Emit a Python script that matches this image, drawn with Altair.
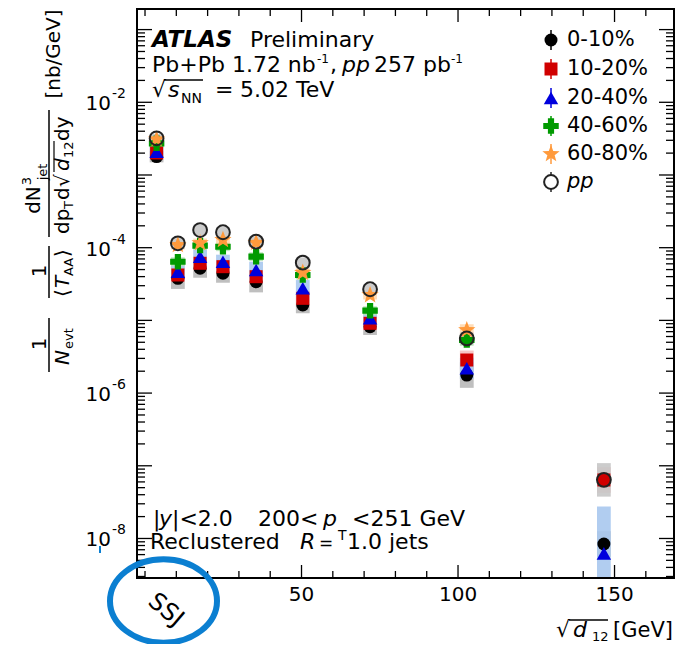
import altair as alt
import pandas as pd

FONT = "DejaVu Sans"

# ---------------- data ----------------
x_centres = [3.7, 10.5, 17.6, 24.9, 35.5, 50.4, 71.9, 102.8, 146.6]
series_names = ["0-10%", "10-20%", "20-40%", "40-60%", "60-80%", "pp"]

val_0_10 = [1.79e-3, 3.79e-5, 5.21e-5, 4.45e-5, 3.40e-5, 1.63e-5, 8.19e-6, 1.77e-6, 8.4e-9]
val_10_20 = [2.01e-3, 4.21e-5, 6.10e-5, 5.48e-5, 3.99e-5, 2.01e-5, 9.12e-6, 2.85e-6, 6.38e-8]
val_20_40 = [2.09e-3, 4.67e-5, 7.52e-5, 6.41e-5, 4.93e-5, 2.76e-5, 1.07e-5, 2.19e-6, 6.24e-9]
val_40_60 = [2.73e-3, 6.41e-5, 1.07e-4, 1.03e-4, 7.52e-5, 4.21e-5, 1.36e-5, 5.37e-6, None]
val_60_80 = [3.10e-3, 1.09e-4, 1.16e-4, 1.28e-4, 1.17e-4, 4.53e-5, 2.23e-5, 7.38e-6, None]
val_pp = [3.20e-3, 1.15e-4, 1.75e-4, 1.63e-4, 1.21e-4, 6.22e-5, 2.68e-5, 5.67e-6, 6.40e-8]

# systematic uncertainty as multiplicative factor (box from v/f to v*f)
sys_0_10 = [1.2, 1.4, 1.35, 1.35, 1.4, 1.3, 1.3, 1.5, 1.5]
sys_10_20 = [1.2, 1.25, 1.25, 1.25, 1.25, 1.25, 1.25, 1.35, 1.5]
sys_20_40 = [1.2, 1.25, 1.25, 1.25, 1.3, 1.3, 1.3, 1.4, 4.4]
sys_40_60 = [1.15, 1.15, 1.15, 1.15, 1.15, 1.15, 1.15, 1.2, None]
sys_60_80 = [1.15, 1.15, 1.15, 1.15, 1.15, 1.15, 1.15, 1.2, None]
sys_pp = [1.15, 1.18, 1.18, 1.18, 1.18, 1.18, 1.18, 1.2, 1.7]

x_tick_labels = [50, 100, 150]
y_label_vals = [1e-8, 1e-6, 1e-4, 1e-2]
y_label_exps = ["-8", "-6", "-4", "-2"]

all_vals = [val_0_10, val_10_20, val_20_40, val_40_60, val_60_80, val_pp]
all_sys = [sys_0_10, sys_10_20, sys_20_40, sys_40_60, sys_60_80, sys_pp]

# ---------------- layout ----------------
W, H = 537, 569
OX, OY = 137, 9          # page position of plot origin
BOX_HW = 2.2             # half width of systematic boxes (x units)
x_domain = [-2.56, 169.0]
y_domain = [2.86e-9, 0.192]
xs = alt.Scale(domain=x_domain, nice=False, zero=False)
ys = alt.Scale(type="log", domain=y_domain, nice=False, clamp=True)

STAR = ("M0,-1L0.247,-0.34L0.951,-0.309L0.4,0.13L0.588,0.809L0,0.42"
        "L-0.588,0.809L-0.4,0.13L-0.951,-0.309L-0.247,-0.34Z")

styles = {
    "0-10%": dict(shape="circle", color="#000000", size=169, filled=True, box="#b8b8b8"),
    "10-20%": dict(shape="square", color="#d00000", size=169, filled=True, box="#f6c0c0"),
    "20-40%": dict(shape="triangle-up", color="#0000dd", size=210, filled=True, box="#a8c8ee"),
    "40-60%": dict(shape="cross", color="#009a00", size=240, filled=True, box="#b8e4b8"),
    "60-80%": dict(shape=STAR, color="#ff9a3c", size=330, filled=True, box="#ffd9b0"),
    "pp": dict(shape="circle", color="#222222", size=190, filled=False, box="#c6c6c6"),
}

rows = []
for name, vals, sy in zip(series_names, all_vals, all_sys):
    for x, v, f in zip(x_centres, vals, sy):
        if v is None:
            continue
        rows.append(dict(series=name, x=x, y=v, ylo=v / f, yhi=v * f,
                         xlo=x - BOX_HW, xhi=x + BOX_HW))
df = pd.DataFrame(rows)
dummy = pd.DataFrame({"a": [0]})

layers = []

# systematic boxes
for name in series_names:
    st = styles[name]
    sub = df[df.series == name]
    layers.append(alt.Chart(sub).mark_rect(color=st["box"], opacity=0.9).encode(
        x=alt.X("xlo:Q", scale=xs, axis=None), x2="xhi:Q",
        y=alt.Y("ylo:Q", scale=ys, axis=None), y2="yhi:Q"))

# markers
for name in series_names:
    st = styles[name]
    sub = df[df.series == name]
    if st["filled"]:
        mk = alt.Chart(sub).mark_point(shape=st["shape"], size=st["size"], filled=True,
                                       color=st["color"], opacity=1)
    else:
        mk = alt.Chart(sub).mark_point(shape=st["shape"], size=st["size"], filled=False,
                                       color=st["color"], strokeWidth=2, opacity=1)
    layers.append(mk.encode(x=alt.X("x:Q", scale=xs, axis=None),
                            y=alt.Y("y:Q", scale=ys, axis=None)))

# ---------------- frame ticks (inside) ----------------
y_major = [10.0 ** k for k in range(-8, 0)]
y_minor = [m * 10.0 ** k for k in range(-9, 0) for m in range(2, 10)
           if y_domain[0] <= m * 10.0 ** k <= y_domain[1]]
x_major = [50, 100, 150]
x_minor = [v for v in range(0, 170, 10) if v not in x_major]


def yticks(vals, length):
    d = pd.DataFrame({"v": vals})
    left = alt.Chart(d).mark_rule(color="black", strokeWidth=1.3).encode(
        y=alt.Y("v:Q", scale=ys, axis=None), x=alt.value(0), x2=alt.value(length))
    right = alt.Chart(d).mark_rule(color="black", strokeWidth=1.3).encode(
        y=alt.Y("v:Q", scale=ys, axis=None), x=alt.value(W - length), x2=alt.value(W))
    return [left, right]


def xticks(vals, length):
    d = pd.DataFrame({"v": vals})
    bot = alt.Chart(d).mark_rule(color="black", strokeWidth=1.3).encode(
        x=alt.X("v:Q", scale=xs, axis=None), y=alt.value(H - length), y2=alt.value(H))
    top = alt.Chart(d).mark_rule(color="black", strokeWidth=1.3).encode(
        x=alt.X("v:Q", scale=xs, axis=None), y=alt.value(0), y2=alt.value(length))
    return [bot, top]


layers += yticks(y_major, 15) + yticks(y_minor, 8) + xticks(x_major, 13) + xticks(x_minor, 7)

# tick labels
xl = pd.DataFrame({"v": x_tick_labels, "t": [str(v) for v in x_tick_labels]})
layers.append(alt.Chart(xl).mark_text(font=FONT, fontSize=20, baseline="top", color="black").encode(
    x=alt.X("v:Q", scale=xs, axis=None), y=alt.value(H + 7), text="t:N"))
yl = pd.DataFrame({"v": y_label_vals, "base": ["10"] * len(y_label_vals), "exp": y_label_exps})
layers.append(alt.Chart(yl).mark_text(font=FONT, fontSize=20, align="right", baseline="middle",
                                      dy=2, color="black").encode(
    y=alt.Y("v:Q", scale=ys, axis=None), x=alt.value(111 - OX), text="base:N"))
layers.append(alt.Chart(yl).mark_text(font=FONT, fontSize=14, align="left", baseline="middle",
                                      dy=-8, color="black").encode(
    y=alt.Y("v:Q", scale=ys, axis=None), x=alt.value(112 - OX), text="exp:N"))


# ---------------- annotations ----------------
def txt(s, px, py, size=22, style="normal", weight="normal", align="left",
        baseline="alphabetic", angle=0, color="black"):
    return alt.Chart(dummy).mark_text(text=s, font=FONT, fontSize=size, fontStyle=style,
                                      fontWeight=weight, align=align, baseline=baseline,
                                      angle=angle, color=color).encode(
        x=alt.value(px - OX), y=alt.value(py - OY))


def rule(px1, py1, px2, py2, w=1.5, color="black"):
    return alt.Chart(dummy).mark_rule(strokeWidth=w, color=color).encode(
        x=alt.value(px1 - OX), y=alt.value(py1 - OY),
        x2=alt.value(px2 - OX), y2=alt.value(py2 - OY))


# explicit black frame
layers += [
    rule(OX, OY, OX + W, OY, w=2),
    rule(OX, OY + H, OX + W, OY + H, w=2),
    rule(OX, OY, OX, OY + H, w=2),
    rule(OX + W, OY, OX + W, OY + H, w=2),
]

# top-left block
layers += [
    txt("ATLAS", 152, 47, size=23, style="italic", weight="bold"),
    txt("Preliminary", 250, 47),
    txt("Pb+Pb 1.72 nb", 152, 72),
    txt("-1", 317, 63, size=12),
    txt(",", 330, 72),
    txt("pp", 342, 72, style="italic"),
    txt("257 pb", 374, 72),
    txt("-1", 451, 63, size=12),
    txt("\u221a", 152, 97),
    rule(164, 80, 203, 80, w=1.3),
    txt("s", 168, 97, style="italic"),
    txt("NN", 181, 103, size=14),
    txt("=", 215, 97),
    txt("5.02 TeV", 240, 97),
]

# bottom-left block
layers += [
    txt("|", 153, 526),
    txt("y", 159, 526, style="italic"),
    txt("|<2.0", 172, 526),
    txt("200<", 258, 526),
    txt("p", 323, 526, style="italic"),
    txt("T", 338, 540, size=14),
    txt("<251 GeV", 352, 526),
    txt("Reclustered", 150, 549),
    txt("R", 300, 549, style="italic"),
    txt("=", 319, 549, size=17),
    txt("1.0 jets", 347, 549),
]

# legend
leg_y = [40, 69, 98, 126, 154, 182]
for name, cy in zip(series_names, leg_y):
    st = styles[name]
    layers.append(rule(551, cy - 10, 551, cy + 10, w=1.5, color=st["color"]))
    if st["filled"]:
        p = alt.Chart(dummy).mark_point(shape=st["shape"], size=st["size"], filled=True,
                                        color=st["color"], opacity=1)
    else:
        p = alt.Chart(dummy).mark_point(shape=st["shape"], size=st["size"], filled=True,
                                        fill="white", stroke=st["color"], strokeWidth=2, opacity=1)
    layers.append(p.encode(x=alt.value(551 - OX), y=alt.value(cy - OY)))
    layers.append(txt(name, 567, cy, size=21, baseline="middle",
                      style="italic" if name == "pp" else "normal"))

# x-axis title  sqrt(d12) [GeV]
layers += [
    txt("\u221a", 556, 637, size=22),
    rule(569, 620, 608, 620, w=1.3),
    txt("d", 573, 637, size=22, style="italic"),
    txt("12", 592, 641, size=13),
    txt("[GeV]", 673, 637, size=21, align="right"),
]

# y-axis title (rotated)
R = 270
layers += [
    txt("[nb/GeV]", 54, 54, size=20, align="center", baseline="middle", angle=R),
    txt("dN", 34, 200, size=20, align="center", baseline="middle", angle=R),
    txt("3", 27, 181, size=13, align="center", baseline="middle", angle=R),
    txt("jet", 43, 172, size=13, align="center", baseline="middle", angle=R),
    rule(49, 110, 49, 237, w=1.5),
    txt("dp", 63, 234, size=20, align="left", baseline="middle", angle=R),
    txt("T", 69, 209, size=13, align="left", baseline="middle", angle=R),
    txt("d", 63, 200, size=20, align="left", baseline="middle", angle=R),
    txt("\u221a", 63, 187, size=20, align="left", baseline="middle", angle=R),
    rule(54, 172, 54, 141, w=1.2),
    txt("d", 63, 171, size=20, style="italic", align="left", baseline="middle", angle=R),
    txt("12", 69, 158, size=13, align="left", baseline="middle", angle=R),
    txt("dy", 63, 141, size=20, align="left", baseline="middle", angle=R),
    txt("1", 40, 271, size=20, align="center", baseline="middle", angle=R),
    rule(49, 246, 49, 298, w=1.5),
    txt("\u27e8", 63, 297, size=20, align="left", baseline="middle", angle=R),
    txt("T", 63, 288, size=20, style="italic", align="left", baseline="middle", angle=R),
    txt("AA", 69, 276, size=13, align="left", baseline="middle", angle=R),
    txt("\u27e9", 63, 257, size=20, align="left", baseline="middle", angle=R),
    txt("1", 40, 344, size=20, align="center", baseline="middle", angle=R),
    rule(49, 318, 49, 372, w=1.5),
    txt("N", 63, 365, size=20, style="italic", align="left", baseline="middle", angle=R),
    txt("evt", 69, 349, size=13, align="left", baseline="middle", angle=R),
]

# SSJ label and blue circle annotation
layers.append(txt("SSJ", 159, 589, size=24, align="left", baseline="top", angle=40))
ellipse = "M-1,0A1,0.78,0,1,1,1,0A1,0.78,0,1,1,-1,0Z"
layers.append(alt.Chart(dummy).mark_point(shape=ellipse, size=107 * 107, filled=False,
                                          color="#0b7fd1", strokeWidth=6, opacity=1).encode(
    x=alt.value(163.5 - OX), y=alt.value(601 - OY)))
layers.append(rule(100, 546, 100, 553, w=2, color="#0b7fd1"))

chart = alt.layer(*layers).properties(
    width=W, height=H,
    autosize=alt.AutoSizeParams(type="none"),
    padding={"left": OX - 8, "top": OY - 8, "right": 1, "bottom": 66},
).configure(background="white").configure_view(stroke="black", strokeWidth=2)

chart.save("out.html", embed_options={"renderer": "svg", "actions": False})
